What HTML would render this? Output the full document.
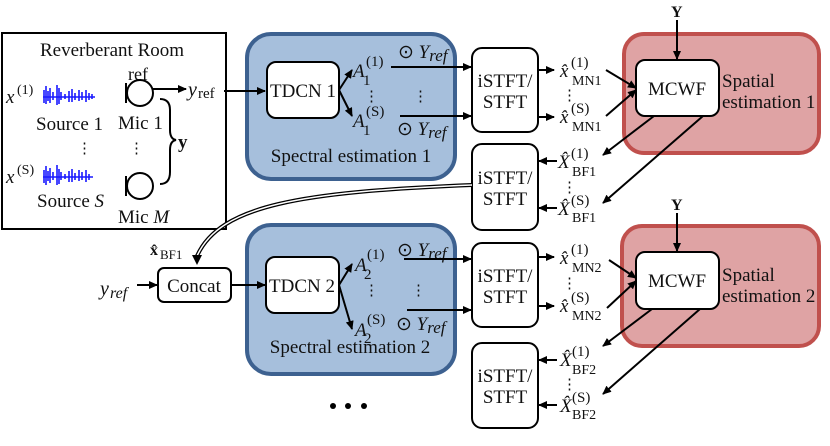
<!DOCTYPE html>
<html><head><meta charset="utf-8"><style>
body{margin:0;background:#fff}
svg{display:block}
text{font-family:"Liberation Serif",serif;fill:#111}
.i{font-style:italic}
</style></head><body>
<svg width="830" height="446" viewBox="0 0 830 446" xmlns="http://www.w3.org/2000/svg">
<defs>
<marker id="a" markerWidth="9" markerHeight="8" refX="8" refY="4" orient="auto" markerUnits="userSpaceOnUse">
<path d="M0,0 L9,4 L0,8 z" fill="#000"/></marker>
</defs>
<!-- containers first -->
<rect x="2" y="33" width="224" height="196" fill="#fff" stroke="#000" stroke-width="2"/>
<rect x="247" y="34" width="208" height="145" rx="24" fill="#a6bfdc" stroke="#3d6190" stroke-width="4"/>
<rect x="247" y="225" width="208" height="149" rx="24" fill="#a6bfdc" stroke="#3d6190" stroke-width="4"/>
<rect x="624" y="34" width="195" height="119" rx="20" fill="#dfa3a4" stroke="#c0504d" stroke-width="4"/>
<rect x="622" y="226" width="197" height="120" rx="20" fill="#dfa3a4" stroke="#c0504d" stroke-width="4"/>

<!-- Room -->
<text x="40" y="56" font-size="19">Reverberant Room</text>
<text x="6" y="103" font-size="19" class="i">x</text><text x="17" y="94" font-size="14">(1)</text>
<text x="6" y="183" font-size="19" class="i">x</text><text x="17" y="174" font-size="14">(S)</text>
<g stroke="#1a1aff" stroke-width="1.6">
<path d="M43,97h52 M44,90v13 M46,86v18 M48,91v10 M50,88v15 M53,92v8 M57,85v20 M59,88v16 M61,92v8 M65,94v5 M69,91v11 M72,89v13 M75,93v7 M79,90v11 M82,92v8 M86,90v12 M89,93v7 M92,94v5"/>
<path d="M43,177h50 M44,170v13 M46,166v19 M48,171v10 M50,168v15 M53,172v8 M57,165v20 M59,169v15 M61,172v8 M65,174v5 M69,171v11 M72,169v13 M75,173v7 M79,170v11 M82,172v8 M86,170v12 M89,174v6"/>
</g>
<text x="36" y="130" font-size="19">Source 1</text>
<text x="77" y="153" font-size="15">⋮</text>
<text x="37" y="207" font-size="19">Source <tspan class="i">S</tspan></text>
<text x="128" y="80" font-size="18">ref</text>
<g stroke="#000" stroke-width="2" fill="none">
<line x1="126" y1="83" x2="126" y2="103"/><circle cx="140" cy="93" r="13"/>
<line x1="126" y1="176" x2="126" y2="196"/><circle cx="140" cy="186" r="13"/>
<path d="M160,99 Q170,99 170,110 L170,130 Q170,139 176,140 Q170,141 170,150 L170,172 Q170,184 160,184"/>
</g>
<text x="118" y="129" font-size="19">Mic 1</text>
<text x="129" y="153" font-size="15">⋮</text>
<text x="118" y="223" font-size="19">Mic <tspan class="i">M</tspan></text>
<text x="178" y="148" font-size="19" font-weight="bold">y</text>
<line x1="153" y1="89" x2="186" y2="89" stroke="#000" stroke-width="2" marker-end="url(#a)"/>
<text x="188" y="96" font-size="20" class="i">y</text><text x="198" y="98" font-size="15">ref</text>
<line x1="224" y1="91" x2="265" y2="91" stroke="#000" stroke-width="2" marker-end="url(#a)"/>

<!-- Blue 1 -->
<rect x="267" y="62" width="72" height="56" rx="9" fill="#fff" stroke="#000" stroke-width="2"/>
<text x="303" y="97" font-size="19" text-anchor="middle">TDCN 1</text>
<line x1="339" y1="90" x2="352" y2="70" stroke="#000" stroke-width="2" marker-end="url(#a)"/>
<line x1="339" y1="90" x2="352" y2="116" stroke="#000" stroke-width="2" marker-end="url(#a)"/>
<text x="353" y="77" font-size="19" class="i">A</text><text x="366" y="66" font-size="15">(1)</text><text x="363" y="85" font-size="15">1</text>
<text x="353" y="127" font-size="19" class="i">A</text><text x="366" y="116" font-size="15">(S)</text><text x="363" y="135" font-size="15">1</text>
<text x="364" y="101" font-size="15">⋮</text><text x="413" y="101" font-size="15">⋮</text>
<text x="398" y="58" font-size="19">⊙ <tspan class="i">Y</tspan><tspan class="i" font-size="17" dy="3">ref</tspan></text>
<text x="397" y="135" font-size="19">⊙ <tspan class="i">Y</tspan><tspan class="i" font-size="17" dy="3">ref</tspan></text>
<line x1="391" y1="67" x2="471" y2="67" stroke="#000" stroke-width="2" marker-end="url(#a)"/>
<line x1="400" y1="116" x2="471" y2="116" stroke="#000" stroke-width="2" marker-end="url(#a)"/>
<text x="351" y="162" font-size="19" text-anchor="middle">Spectral estimation 1</text>

<!-- iSTFT boxes -->
<g fill="#fff" stroke="#000" stroke-width="2">
<rect x="472" y="48" width="66" height="84" rx="10"/>
<rect x="472" y="144" width="66" height="86" rx="10"/>
<rect x="472" y="243" width="66" height="84" rx="10"/>
<rect x="472" y="343" width="66" height="85" rx="10"/>
</g>
<g font-size="19" text-anchor="middle">
<text x="505" y="87">iSTFT/</text><text x="505" y="108">STFT</text>
<text x="505" y="184">iSTFT/</text><text x="505" y="205">STFT</text>
<text x="505" y="282">iSTFT/</text><text x="505" y="303">STFT</text>
<text x="505" y="382">iSTFT/</text><text x="505" y="403">STFT</text>
</g>

<!-- MN1 / BF1 -->
<g stroke="#000" stroke-width="2">
<line x1="538" y1="70" x2="554" y2="70" marker-end="url(#a)"/>
<line x1="538" y1="117" x2="554" y2="117" marker-end="url(#a)"/>
<line x1="557" y1="161" x2="539" y2="161" marker-end="url(#a)"/>
<line x1="557" y1="208" x2="539" y2="208" marker-end="url(#a)"/>
<line x1="606" y1="70" x2="636" y2="88" marker-end="url(#a)"/>
<line x1="606" y1="116" x2="636" y2="90" marker-end="url(#a)"/>
<line x1="654" y1="116" x2="603" y2="155" marker-end="url(#a)"/>
<line x1="703" y1="116" x2="603" y2="203" marker-end="url(#a)"/>
<line x1="677" y1="20" x2="677" y2="59" marker-end="url(#a)"/>
</g>
<g font-size="19">
<text x="560" y="77" class="i">x̂</text><text x="571" y="67" font-size="15">(1)</text><text x="572" y="85" font-size="14">MN1</text>
<text x="560" y="123" class="i">x̂</text><text x="571" y="113" font-size="15">(S)</text><text x="572" y="131" font-size="14">MN1</text>
<text x="562" y="100" font-size="15">⋮</text>
<text x="558" y="168" class="i">X̂</text><text x="571" y="158" font-size="15">(1)</text><text x="572" y="176" font-size="14">BF1</text>
<text x="558" y="215" class="i">X̂</text><text x="571" y="205" font-size="15">(S)</text><text x="572" y="222" font-size="14">BF1</text>
<text x="562" y="192" font-size="15">⋮</text>
</g>

<rect x="636" y="60" width="83" height="56" rx="9" fill="#fff" stroke="#000" stroke-width="2"/>
<text x="677" y="95" font-size="19" text-anchor="middle">MCWF</text>
<text x="722" y="87" font-size="19">Spatial</text>
<text x="722" y="108" font-size="19">estimation 1</text>
<text x="671" y="17" font-size="16" font-weight="bold">Y</text>

<!-- double curve -->
<path d="M472,185 C300,192 220,205 197,256" fill="none" stroke="#000" stroke-width="4"/>
<path d="M472,185 C300,192 220,205 197,256" fill="none" stroke="#fff" stroke-width="1.5"/>
<path d="M192,255 L197,265 L202,255 z" fill="#000"/>
<text x="150" y="255" font-size="16" font-weight="bold">x̂</text><text x="160" y="259" font-size="13">BF1</text>

<!-- row 2 -->
<text x="100" y="295" font-size="20" class="i">y</text><text x="110" y="298" font-size="16" class="i">ref</text>
<line x1="137" y1="285" x2="157" y2="285" stroke="#000" stroke-width="2" marker-end="url(#a)"/>
<rect x="158" y="268" width="73" height="34" rx="6" fill="#fff" stroke="#000" stroke-width="2"/>
<text x="194" y="292" font-size="19" text-anchor="middle">Concat</text>
<line x1="231" y1="285" x2="265" y2="285" stroke="#000" stroke-width="2" marker-end="url(#a)"/>

<rect x="266" y="257" width="73" height="56" rx="9" fill="#fff" stroke="#000" stroke-width="2"/>
<text x="302" y="292" font-size="19" text-anchor="middle">TDCN 2</text>
<line x1="339" y1="285" x2="352" y2="264" stroke="#000" stroke-width="2" marker-end="url(#a)"/>
<line x1="339" y1="285" x2="352" y2="329" stroke="#000" stroke-width="2" marker-end="url(#a)"/>
<text x="355" y="271" font-size="19" class="i">A</text><text x="367" y="259" font-size="15">(1)</text><text x="364" y="279" font-size="15">2</text>
<text x="355" y="336" font-size="19" class="i">A</text><text x="367" y="324" font-size="15">(S)</text><text x="364" y="343" font-size="15">2</text>
<text x="364" y="295" font-size="15">⋮</text><text x="411" y="295" font-size="15">⋮</text>
<text x="397" y="256" font-size="19">⊙ <tspan class="i">Y</tspan><tspan class="i" font-size="17" dy="3">ref</tspan></text>
<text x="396" y="330" font-size="19">⊙ <tspan class="i">Y</tspan><tspan class="i" font-size="17" dy="3">ref</tspan></text>
<line x1="404" y1="259" x2="471" y2="259" stroke="#000" stroke-width="2" marker-end="url(#a)"/>
<line x1="407" y1="310" x2="471" y2="310" stroke="#000" stroke-width="2" marker-end="url(#a)"/>
<text x="350" y="353" font-size="19" text-anchor="middle">Spectral estimation 2</text>

<g stroke="#000" stroke-width="2">
<line x1="538" y1="257" x2="554" y2="257" marker-end="url(#a)"/>
<line x1="538" y1="306" x2="554" y2="306" marker-end="url(#a)"/>
<line x1="557" y1="360" x2="539" y2="360" marker-end="url(#a)"/>
<line x1="557" y1="405" x2="539" y2="405" marker-end="url(#a)"/>
<line x1="609" y1="260" x2="636" y2="278" marker-end="url(#a)"/>
<line x1="607" y1="308" x2="636" y2="281" marker-end="url(#a)"/>
<line x1="652" y1="309" x2="603" y2="346" marker-end="url(#a)"/>
<line x1="700" y1="309" x2="603" y2="394" marker-end="url(#a)"/>
<line x1="677" y1="213" x2="677" y2="251" marker-end="url(#a)"/>
</g>
<g font-size="19">
<text x="560" y="264" class="i">x̂</text><text x="571" y="254" font-size="15">(1)</text><text x="572" y="272" font-size="14">MN2</text>
<text x="560" y="312" class="i">x̂</text><text x="571" y="302" font-size="15">(S)</text><text x="572" y="320" font-size="14">MN2</text>
<text x="562" y="288" font-size="15">⋮</text>
<text x="560" y="366" class="i">X̂</text><text x="572" y="356" font-size="15">(1)</text><text x="572" y="374" font-size="14">BF2</text>
<text x="560" y="412" class="i">X̂</text><text x="572" y="402" font-size="15">(S)</text><text x="572" y="419" font-size="14">BF2</text>
<text x="562" y="389" font-size="15">⋮</text>
</g>
<rect x="636" y="252" width="83" height="57" rx="9" fill="#fff" stroke="#000" stroke-width="2"/>
<text x="677" y="287" font-size="19" text-anchor="middle">MCWF</text>
<text x="722" y="281" font-size="19">Spatial</text>
<text x="722" y="302" font-size="19">estimation 2</text>
<text x="671" y="210" font-size="16" font-weight="bold">Y</text>

<g fill="#000"><circle cx="333" cy="406" r="3"/><circle cx="348" cy="406" r="3"/><circle cx="364" cy="406" r="3"/></g>
</svg>
</body></html>
